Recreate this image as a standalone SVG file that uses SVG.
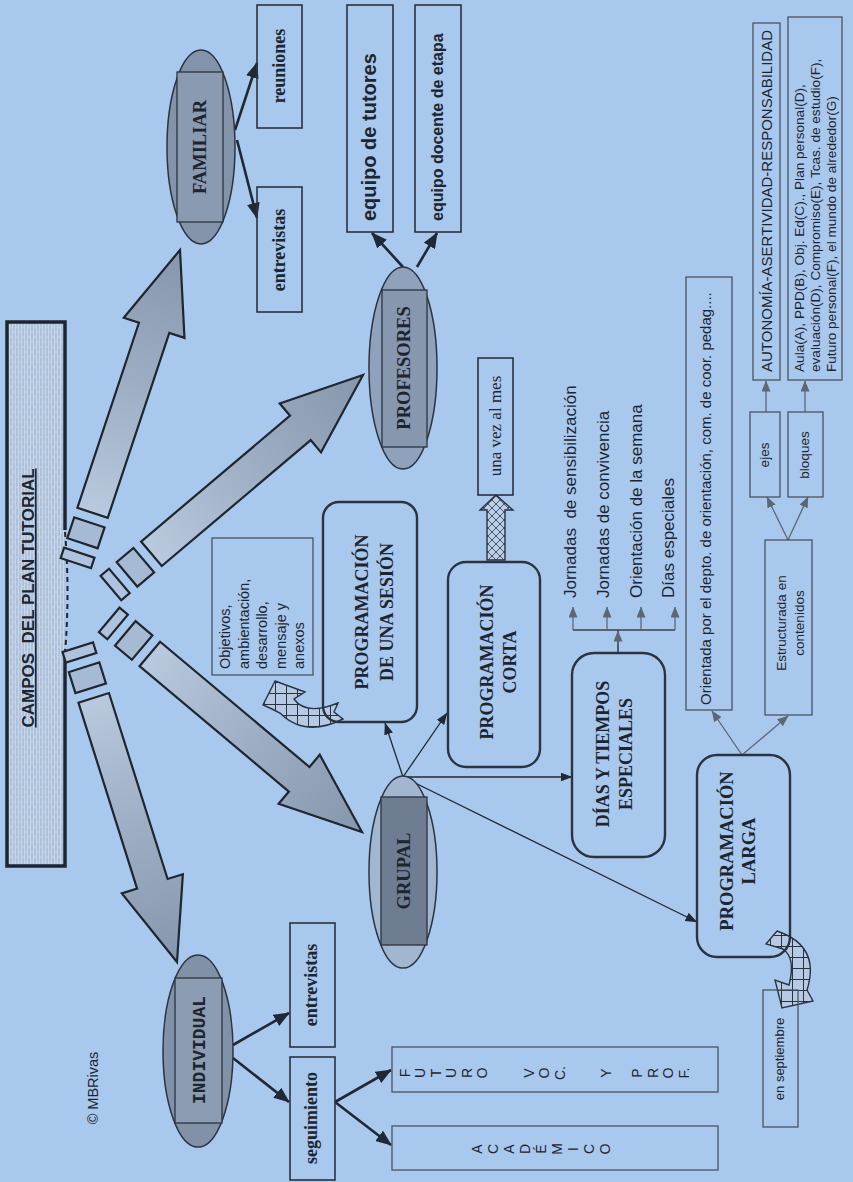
<svg xmlns="http://www.w3.org/2000/svg" width="853" height="1182" viewBox="0 0 853 1182">
<style>
.box{fill:none;stroke:#2a3340;stroke-width:1.6}
.rbox{fill:none;stroke:#2a3340;stroke-width:2.4}
.gbox{fill:none;stroke:#4a5361;stroke-width:1.3}
.ser{font-family:"Liberation Serif","Times New Roman",serif;font-weight:bold;fill:#1d2530}
.serr{font-family:"Liberation Serif","Times New Roman",serif;fill:#1d2530}
.sans{font-family:"Liberation Sans",Arial,sans-serif;fill:#1d2530}
.mono{font-family:"Liberation Mono","Courier New",monospace;font-weight:bold;fill:#1d2530}
.ell{stroke:#2a3340;stroke-width:1.5}
.thick{stroke:#202833;stroke-width:2.6;fill:none;marker-end:url(#ahb)}
.thin{stroke:#202833;stroke-width:1.3;fill:none;marker-end:url(#ahs)}
.grey{stroke:#5d6675;stroke-width:1.3;fill:none;marker-end:url(#ahg)}
.barrow{fill:url(#ag);stroke:#1f2630;stroke-width:2.2}
.r2{fill:#a7bad3;stroke:#1f2630;stroke-width:2.2}
.r1{fill:#b0c3dc;stroke:#1f2630;stroke-width:2.2}
.hatch{fill:url(#grid);stroke:#2a3340;stroke-width:1.4}
</style>
<defs>
<pattern id="grid" width="11" height="11" patternUnits="userSpaceOnUse">
<rect width="11" height="11" fill="#b6cae6"/>
<path d="M0 0.5H11M0.5 0V11" stroke="#2a3340" stroke-width="1"/>
</pattern>
<pattern id="xh" width="8" height="8" patternUnits="userSpaceOnUse">
<rect width="8" height="8" fill="#bccfe8"/>
<path d="M0 0L8 8M8 0L0 8" stroke="#4a5566" stroke-width="1"/>
</pattern>
<pattern id="brick" width="6" height="10" patternUnits="userSpaceOnUse">
<rect width="6" height="10" fill="#adc1db"/>
<path d="M0.5 0V10M3.5 0V10M0.5 2H3.5M3.5 7H6.5" stroke="#c9d7ea" stroke-width="1"/>
</pattern>
<linearGradient id="ag" x1="0" y1="0" x2="1" y2="0">
<stop offset="0" stop-color="#b9c9de"/>
<stop offset="0.5" stop-color="#9cadc4"/>
<stop offset="1" stop-color="#8696ad"/>
</linearGradient>
<marker id="ahb" markerUnits="userSpaceOnUse" viewBox="0 0 16 13" refX="15" refY="6.5" markerWidth="16" markerHeight="13" orient="auto"><path d="M0 0L16 6.5L0 13Z" fill="#202833"/></marker>
<marker id="ahs" markerUnits="userSpaceOnUse" viewBox="0 0 12 9" refX="11.5" refY="4.5" markerWidth="12" markerHeight="9" orient="auto"><path d="M0 0L12 4.5L0 9Z" fill="#202833"/></marker>
<marker id="ahg" markerUnits="userSpaceOnUse" viewBox="0 0 11 9" refX="10.5" refY="4.5" markerWidth="11" markerHeight="9" orient="auto"><path d="M0 0L11 4.5L0 9Z" fill="#5d6675"/></marker>
</defs>

<rect width="853" height="1182" fill="#a9c8ee"/>

<g id="title">
<rect x="7" y="322" width="58" height="544" fill="url(#brick)"/>
<path d="M65 530V322H7V866H65V655" fill="none" stroke="#1e2530" stroke-width="3.5"/>
<path d="M65 532Q70 593 65 653" fill="none" stroke="#1e2530" stroke-width="2" stroke-dasharray="5 4"/>
<text class="sans" font-weight="bold" font-size="17" transform="translate(28,598) rotate(-90)" text-anchor="middle" dy=".35em" text-decoration="underline" style="white-space:pre">CAMPOS  DEL PLAN TUTORIAL</text>
</g>

<g id="connectors">
<g id="arrow-familiar" transform="translate(180,250) rotate(-71.6)">
<polygon class="barrow" points="0,0 -82,-32 -82,-16 -277,-16 -277,16 -82,16 -82,32"/>
<rect class="r2" x="-309" y="-16" width="22" height="32"/>
<rect class="r1" x="-330" y="-16" width="11" height="32"/>
</g>
<g id="arrow-profesores" transform="translate(363,375) rotate(-40.2)">
<polygon class="barrow" points="0,0 -82,-32 -82,-16 -277,-16 -277,16 -82,16 -82,32"/>
<rect class="r2" x="-309" y="-16" width="22" height="32"/>
<rect class="r1" x="-330" y="-16" width="11" height="32"/>
</g>
<g id="arrow-grupal" transform="translate(362,832) rotate(40)">
<polygon class="barrow" points="0,0 -82,-32 -82,-16 -277,-16 -277,16 -82,16 -82,32"/>
<rect class="r2" x="-309" y="-16" width="22" height="32"/>
<rect class="r1" x="-330" y="-16" width="11" height="32"/>
</g>
<g id="arrow-individual" transform="translate(177,962) rotate(72.5)">
<polygon class="barrow" points="0,0 -82,-32 -82,-16 -277,-16 -277,16 -82,16 -82,32"/>
<rect class="r2" x="-309" y="-16" width="22" height="32"/>
<rect class="r1" x="-330" y="-16" width="11" height="32"/>
</g>

<line class="thick" x1="235" y1="130" x2="257" y2="63"/>
<line class="thick" x1="237" y1="140" x2="257" y2="218"/>
<line class="thick" x1="403" y1="267" x2="372" y2="233"/>
<line class="thick" x1="417" y1="267" x2="437" y2="233"/>
<line class="thick" x1="233" y1="1045" x2="289" y2="1013"/>
<line class="thick" x1="233" y1="1058" x2="289" y2="1102"/>
<line class="thick" x1="335" y1="1102" x2="391" y2="1070"/>
<line class="thick" x1="335" y1="1102" x2="391" y2="1145"/>

<line class="thin" x1="403" y1="777" x2="385" y2="723"/>
<line class="thin" x1="403" y1="777" x2="447" y2="713"/>
<line class="thin" x1="403" y1="777" x2="572" y2="777"/>
<line class="thin" x1="403" y1="777" x2="697" y2="922"/>

<path d="M618 653V630M573 630H675" fill="none" stroke="#3a4250" stroke-width="1.6"/>
<line class="grey" x1="618" y1="645" x2="618" y2="631"/>
<line class="grey" x1="573" y1="630" x2="573" y2="607"/>
<line class="grey" x1="607" y1="630" x2="607" y2="607"/>
<line class="grey" x1="641" y1="630" x2="641" y2="607"/>
<line class="grey" x1="675" y1="630" x2="675" y2="607"/>

<line class="grey" x1="742" y1="755" x2="712" y2="711"/>
<line class="grey" x1="742" y1="755" x2="788" y2="716"/>
<line class="grey" x1="788" y1="540" x2="767" y2="497"/>
<line class="grey" x1="788" y1="540" x2="808" y2="497"/>
<line class="grey" x1="766" y1="412" x2="766" y2="381"/>
<line class="grey" x1="805" y1="412" x2="805" y2="381"/>

<path class="hatch" d="M487 560V510H480L496 495L513 510H505V560Z" style="fill:url(#xh)"/>
<path class="hatch" d="M275 681L305 692L294 699Q306 716 338 703L334 712L343 719Q305 738 280 713L272 709L263 705Z"/>
<path class="hatch" d="M766 944L777 931Q821 946 807 990L813 1001L782 1008L775 980L789 985Q796 958 783 949Z"/>
</g>

<g id="familiar">
<ellipse class="ell" cx="201" cy="147" rx="34" ry="97" fill="#8393aa"/>
<rect x="177" y="72" width="46" height="150" fill="#8a9ab0" stroke="#2a3340" stroke-width="1.3"/>
<text class="ser" font-size="18.5" transform="translate(200,147) rotate(-90)" text-anchor="middle" dy=".35em">FAMILIAR</text>
</g>
<g id="reuniones">
<rect class="box" x="257" y="5" width="45" height="123"/>
<text class="ser" font-size="18" transform="translate(280,66) rotate(-90)" text-anchor="middle" dy=".3em">reuniones</text>
</g>
<g id="entrevistas-familiar">
<rect class="box" x="257" y="187" width="45" height="125"/>
<text class="ser" font-size="18" transform="translate(280,250) rotate(-90)" text-anchor="middle" dy=".3em">entrevistas</text>
</g>

<g id="profesores">
<ellipse class="ell" cx="403" cy="368" rx="34" ry="101" fill="#8fa1bb"/>
<rect x="382" y="290" width="45" height="157" fill="#8797ae" stroke="#2a3340" stroke-width="1.3"/>
<text class="ser" font-size="18.5" transform="translate(404,368) rotate(-90)" text-anchor="middle" dy=".35em">PROFESORES</text>
</g>
<g id="equipo-tutores">
<rect class="box" x="347" y="5" width="46" height="227"/>
<text class="sans" font-weight="bold" font-size="20" transform="translate(370,221) rotate(-90)" dy=".3em">equipo de tutores</text>
</g>
<g id="equipo-docente">
<rect class="box" x="415" y="5" width="46" height="227"/>
<text class="sans" font-weight="bold" font-size="16" transform="translate(438,221) rotate(-90)" dy=".3em">equipo docente de etapa</text>
</g>

<g id="grupal">
<ellipse class="ell" cx="403" cy="872" rx="34" ry="96" fill="#a3b6d0"/>
<rect x="381" y="797" width="46" height="148" fill="#6f7d92" stroke="#2a3340" stroke-width="1.3"/>
<text class="ser" font-size="18.5" transform="translate(404,871) rotate(-90)" text-anchor="middle" dy=".35em">GRUPAL</text>
</g>

<g id="objetivos">
<rect class="gbox" x="212" y="538" width="101" height="137"/>
<text class="sans" font-size="14.5" transform="translate(226,669) rotate(-90)" dy=".3em">Objetivos,</text>
<text class="sans" font-size="14.5" transform="translate(244.5,669) rotate(-90)" dy=".3em">ambientación,</text>
<text class="sans" font-size="14.5" transform="translate(263,669) rotate(-90)" dy=".3em">desarrollo,</text>
<text class="sans" font-size="14.5" transform="translate(281.5,669) rotate(-90)" dy=".3em">mensaje y</text>
<text class="sans" font-size="14.5" transform="translate(300,669) rotate(-90)" dy=".3em">anexos</text>
</g>

<g id="prog-sesion">
<rect class="rbox" x="323" y="502" width="94" height="220" rx="16"/>
<text class="ser" font-size="18" transform="translate(362,612) rotate(-90)" text-anchor="middle" dy=".35em">PROGRAMACIÓN</text>
<text class="ser" font-size="18" transform="translate(387,612) rotate(-90)" text-anchor="middle" dy=".35em">DE UNA SESIÓN</text>
</g>

<g id="una-vez">
<rect class="box" x="478" y="358" width="35" height="137"/>
<text class="serr" font-size="17" transform="translate(496,426) rotate(-90)" text-anchor="middle" dy=".3em">una vez al mes</text>
</g>

<g id="prog-corta">
<rect class="rbox" x="448" y="562" width="92" height="205" rx="18"/>
<text class="ser" font-size="18" transform="translate(487,662) rotate(-90)" text-anchor="middle" dy=".35em">PROGRAMACIÓN</text>
<text class="ser" font-size="18" transform="translate(510,662) rotate(-90)" text-anchor="middle" dy=".35em">CORTA</text>
</g>

<g id="dias">
<rect class="rbox" x="572" y="653" width="93" height="204" rx="22"/>
<text class="ser" font-size="18" transform="translate(603,754) rotate(-90)" text-anchor="middle" dy=".35em">DÍAS Y TIEMPOS</text>
<text class="ser" font-size="18" transform="translate(626,754) rotate(-90)" text-anchor="middle" dy=".35em">ESPECIALES</text>
</g>

<g id="dias-items">
<text class="sans" font-size="17" transform="translate(571,598) rotate(-90)" dy=".3em" style="white-space:pre">Jornadas  de sensibilización</text>
<text class="sans" font-size="17" transform="translate(604,598) rotate(-90)" dy=".3em">Jornadas de convivencia</text>
<text class="sans" font-size="17" transform="translate(637,598) rotate(-90)" dy=".3em">Orientación de la semana</text>
<text class="sans" font-size="17" transform="translate(669,598) rotate(-90)" dy=".3em">Días especiales</text>
</g>

<g id="orientada">
<rect class="gbox" x="686" y="277" width="46" height="433"/>
<text class="sans" font-size="15" transform="translate(706,705) rotate(-90)" dy=".3em">Orientada por el depto. de orientación, com. de coor. pedag....</text>
</g>

<g id="prog-larga">
<rect class="rbox" x="697" y="755" width="93" height="202" rx="20"/>
<text class="ser" font-size="18.5" transform="translate(727,851) rotate(-90)" text-anchor="middle" dy=".35em">PROGRAMACIÓN</text>
<text class="ser" font-size="18.5" transform="translate(749,851) rotate(-90)" text-anchor="middle" dy=".35em">LARGA</text>
</g>

<g id="estructurada">
<rect class="gbox" x="765" y="540" width="47" height="175"/>
<text class="sans" font-size="13.5" transform="translate(782,623) rotate(-90)" text-anchor="middle" dy=".3em">Estructurada en</text>
<text class="sans" font-size="13.5" transform="translate(800,623) rotate(-90)" text-anchor="middle" dy=".3em">contenidos</text>
</g>
<g id="ejes">
<rect class="gbox" x="750" y="412" width="30" height="85"/>
<text class="sans" font-size="13.5" transform="translate(765,455) rotate(-90)" text-anchor="middle" dy=".3em">ejes</text>
</g>
<g id="bloques">
<rect class="gbox" x="788" y="412" width="35" height="85"/>
<text class="sans" font-size="13.5" transform="translate(805,455) rotate(-90)" text-anchor="middle" dy=".3em">bloques</text>
</g>
<g id="autonomia">
<rect class="gbox" x="753" y="23" width="27" height="357"/>
<text class="sans" font-size="15" transform="translate(767,372) rotate(-90)" dy=".35em">AUTONOMÍA-ASERTIVIDAD-RESPONSABILIDAD</text>
</g>
<g id="aula">
<rect class="gbox" x="788" y="17" width="54" height="363"/>
<text class="sans" font-size="13.6" transform="translate(800,372) rotate(-90)" dy=".3em">Aula(A), PPD(B), Obj. Ed(C)., Plan personal(D),</text>
<text class="sans" font-size="13.6" transform="translate(816,372) rotate(-90)" dy=".3em">evaluación(D), Compromiso(E), Tcas. de estudio(F),</text>
<text class="sans" font-size="13.6" transform="translate(832,372) rotate(-90)" dy=".3em">Futuro personal(F), el mundo de alrededor(G)</text>
</g>
<g id="septiembre">
<rect class="gbox" x="763" y="990" width="35" height="137"/>
<text class="sans" font-size="13" transform="translate(780,1059) rotate(-90)" text-anchor="middle" dy=".3em">en septiembre</text>
</g>

<g id="individual">
<ellipse class="ell" cx="198" cy="1051" rx="35" ry="96" fill="#8191a8"/>
<rect x="175" y="978" width="47" height="145" fill="#8c9cb3" stroke="#2a3340" stroke-width="1.3"/>
<text class="mono" font-size="18" transform="translate(199,1050) rotate(-90)" text-anchor="middle" dy=".35em">INDIVIDUAL</text>
</g>
<g id="entrevistas-individual">
<rect class="box" x="290" y="923" width="45" height="124"/>
<text class="ser" font-size="18" transform="translate(312,985) rotate(-90)" text-anchor="middle" dy=".3em">entrevistas</text>
</g>
<g id="seguimiento">
<rect class="box" x="290" y="1057" width="45" height="123"/>
<text class="ser" font-size="18" transform="translate(312,1118) rotate(-90)" text-anchor="middle" dy=".3em">seguimiento</text>
</g>

<g id="futuro" class="sans" font-size="14" text-anchor="middle">
<rect class="gbox" x="392" y="1047" width="326" height="45"/>
<text transform="translate(405,1073) rotate(-90)" dy=".35em">F</text>
<text transform="translate(420.5,1073) rotate(-90)" dy=".35em">U</text>
<text transform="translate(436,1073) rotate(-90)" dy=".35em">T</text>
<text transform="translate(451.5,1073) rotate(-90)" dy=".35em">U</text>
<text transform="translate(467,1073) rotate(-90)" dy=".35em">R</text>
<text transform="translate(482.5,1073) rotate(-90)" dy=".35em">O</text>
<text transform="translate(529,1073) rotate(-90)" dy=".35em">V</text>
<text transform="translate(544.5,1073) rotate(-90)" dy=".35em">O</text>
<text transform="translate(560,1073) rotate(-90)" dy=".35em">C.</text>
<text transform="translate(606.5,1073) rotate(-90)" dy=".35em">Y</text>
<text transform="translate(637.5,1073) rotate(-90)" dy=".35em">P</text>
<text transform="translate(653,1073) rotate(-90)" dy=".35em">R</text>
<text transform="translate(668.5,1073) rotate(-90)" dy=".35em">O</text>
<text transform="translate(684,1073) rotate(-90)" dy=".35em">F.</text>
</g>
<g id="academico" class="sans" font-size="14" text-anchor="middle">
<rect class="gbox" x="392" y="1126" width="326" height="44"/>
<text transform="translate(477,1149) rotate(-90)" dy=".35em">A</text>
<text transform="translate(493,1149) rotate(-90)" dy=".35em">C</text>
<text transform="translate(509,1149) rotate(-90)" dy=".35em">A</text>
<text transform="translate(525,1149) rotate(-90)" dy=".35em">D</text>
<text transform="translate(541,1149) rotate(-90)" dy=".35em">É</text>
<text transform="translate(557,1149) rotate(-90)" dy=".35em">M</text>
<text transform="translate(573,1149) rotate(-90)" dy=".35em">I</text>
<text transform="translate(589,1149) rotate(-90)" dy=".35em">C</text>
<text transform="translate(605,1149) rotate(-90)" dy=".35em">O</text>
</g>

<g id="copyright">
<text class="sans" font-size="14.5" transform="translate(93,1088) rotate(-90)" text-anchor="middle" dy=".35em">© MBRivas</text>
</g>
</svg>
